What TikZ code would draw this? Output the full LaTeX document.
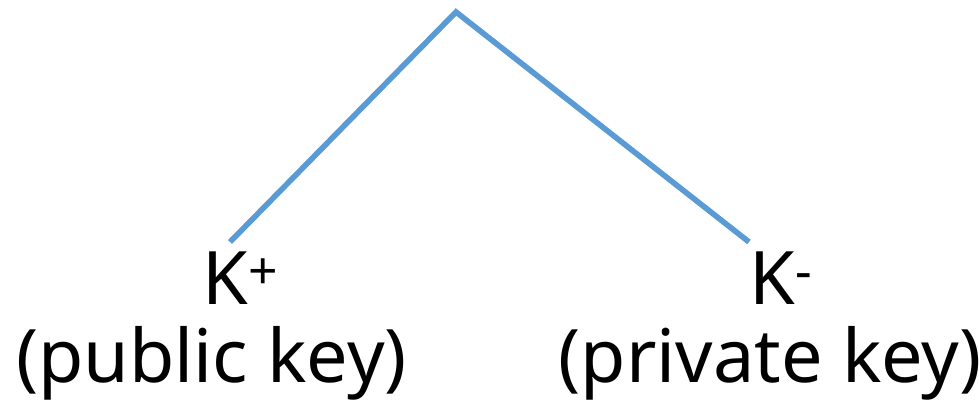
\documentclass[tikz,border=0pt]{standalone}
\usepackage{fontspec}
\setmainfont{Noto Sans}
\usetikzlibrary{positioning}
\definecolor{keyline}{HTML}{5B9BD5}

\begin{document}
\begin{tikzpicture}[
  font=\fontsize{42}{48}\selectfont,
  branch/.style = {draw=keyline, line width=3.2pt},
  keyname/.style = {inner sep=0pt, anchor=base west},
  keynote/.style = {inner sep=0pt, anchor=base},
]
\useasboundingbox (0,0) rectangle (19.58,8.18);

% --- the split ---------------------------------------------------------------
\coordinate (apex) at (9.12,7.94);
\coordinate (pubend) at (4.60,3.34);
\coordinate (privend) at (14.98,3.34);
\draw[branch] (pubend) -- (apex) -- (privend);

% --- the two keys --------------------------------------------------------------
\node[keyname] (kpub) at (4.04,2.08) {K\textsuperscript{+}};
\node[keyname] (kpriv) at (14.98,2.08) {K\textsuperscript{-}};
\node[keynote] (pubnote) at (4.23,0.52) {(public key)};
\node[keynote] (privnote) at (15.4,0.52) {(private key)};

\end{tikzpicture}
\end{document}
